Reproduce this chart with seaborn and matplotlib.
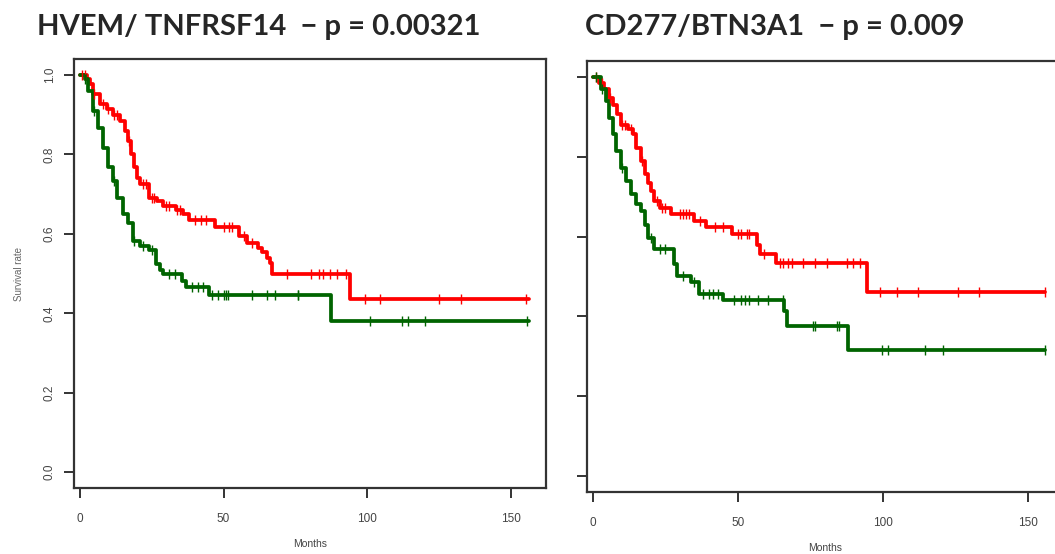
import numpy as np
import pandas as pd
import seaborn as sns
import matplotlib.pyplot as plt

# Kaplan-Meier step curves (months, survival after step)
hvem_hi_t = [0, 2.4, 3.5, 4.5, 7, 9.4, 11.5, 14, 15.6, 16.7, 18, 19, 20, 21, 24, 27, 29,
             33.6, 36, 38, 47, 55.5, 58.3, 62, 63.5, 65, 66, 66.7, 94, 156]
hvem_hi_s = [1.0, 0.99, 0.977, 0.952, 0.927, 0.915, 0.90, 0.884, 0.86, 0.834, 0.80, 0.767,
             0.74, 0.725, 0.69, 0.683, 0.67, 0.66, 0.65, 0.636, 0.616, 0.595, 0.578, 0.565,
             0.553, 0.54, 0.526, 0.50, 0.435, 0.435]
hvem_lo_t = [0, 1.7, 3, 4.5, 6.3, 8, 9.7, 11.5, 13, 15, 16.7, 18.4, 21, 24, 26.7, 28, 29,
             35.5, 37, 45, 87.5, 156]
hvem_lo_s = [1.0, 0.99, 0.96, 0.91, 0.867, 0.817, 0.767, 0.734, 0.69, 0.65, 0.628, 0.583,
             0.57, 0.558, 0.525, 0.508, 0.50, 0.482, 0.465, 0.445, 0.38, 0.38]
cd277_hi_t = [0, 2, 3.8, 5.5, 7, 8.5, 9.6, 12, 13.7, 14.8, 16.5, 18, 19, 20, 21, 23, 27, 35,
              39, 48, 56.7, 57.7, 63, 94.5, 156]
cd277_hi_s = [1.0, 0.985, 0.97, 0.947, 0.93, 0.907, 0.88, 0.87, 0.857, 0.822, 0.79, 0.757,
              0.735, 0.714, 0.69, 0.672, 0.657, 0.638, 0.624, 0.606, 0.58, 0.556, 0.534,
              0.462, 0.462]
cd277_lo_t = [0, 2.7, 4.5, 5.5, 7, 8, 9.6, 11.3, 13, 14.8, 16.5, 18, 19, 21, 28, 29, 33.7,
              36.5, 45, 66, 67, 88, 156]
cd277_lo_s = [1.0, 0.97, 0.94, 0.897, 0.857, 0.815, 0.772, 0.74, 0.707, 0.682, 0.664, 0.63,
              0.597, 0.57, 0.53, 0.50, 0.485, 0.456, 0.44, 0.413, 0.375, 0.315, 0.315]

# censoring times
hvem_hi_cens = [1, 2, 5, 8, 10, 12, 13, 17, 22, 23, 25, 26, 30, 31, 34, 35, 40, 42, 44, 50,
                52, 53, 57, 60, 72, 80.5, 83, 84.5, 87, 89.5, 92.5, 99, 104.5, 125, 132.5, 155]
hvem_lo_cens = [2, 5, 12, 19, 22, 25, 31, 33, 39, 41, 43, 46, 48, 50, 51, 51.5, 60, 65, 68,
                75.7, 76, 101, 112, 114, 120, 155.5]
cd277_hi_cens = [1, 3, 6, 10, 11, 13, 17, 22, 24, 25, 30, 31, 32, 33, 37, 42, 45, 50, 51, 53,
                 54, 59, 64.6, 65.6, 67.4, 68.7, 72.5, 76.6, 80.7, 87.6, 89.7, 92, 99, 105,
                 112, 126, 133, 156]
cd277_lo_cens = [1, 3, 10, 20, 23, 25, 31, 35, 38, 40, 41.6, 43, 48.5, 51, 52.5, 54, 57,
                 60.5, 65.6, 76, 76.6, 84, 85, 99.6, 101.7, 114.4, 120.6, 156]

titles = ["HVEM/ TNFRSF14  \u2212 p = 0.00321", "CD277/BTN3A1  \u2212 p = 0.009"]
red, green = "#ff0000", "#006400"

sns.set_theme(style="white")
plt.rcParams['font.family'] = ['Liberation Sans', 'DejaVu Sans']


def censor_y(t, s, c):
    idx = np.searchsorted(np.array(t), np.array(c), side='right') - 1
    return np.array(s)[idx]


def km_panel(ax, curves):
    for t, s, cens, col in curves:
        df = pd.DataFrame({"Months": t, "Surv": s})
        sns.lineplot(data=df, x="Months", y="Surv", drawstyle='steps-post',
                     estimator=None, sort=False, color=col, linewidth=2.7, ax=ax)
        cdf = pd.DataFrame({"Months": cens, "Surv": censor_y(t, s, cens)})
        sns.scatterplot(data=cdf, x="Months", y="Surv", marker='|', s=55,
                        color=col, linewidth=1.0, ax=ax, zorder=3)
    ax.set_xlim(-2, 162)
    ax.set_ylim(-0.04, 1.04)
    ax.set_xticks([0, 50, 100, 150])
    ax.set_yticks([0, 0.2, 0.4, 0.6, 0.8, 1.0])
    for sp in ax.spines.values():
        sp.set_color('#333333')
        sp.set_linewidth(1.6)
    ax.tick_params(axis='both', direction='out', length=7, width=1.4, color='#333333',
                   labelsize=8.5, labelcolor='#444444', bottom=True, left=True)
    ax.tick_params(axis='x', pad=11)
    ax.set_xlabel("Months", fontsize=7.5, color='#444444', labelpad=10)


fig = plt.figure(figsize=(10.55, 5.54), dpi=100)
ax1 = fig.add_axes([0.070, 0.119, 0.4475, 0.7745])
ax2 = fig.add_axes([0.5564, 0.112, 0.451, 0.778])

km_panel(ax1, [(hvem_hi_t, hvem_hi_s, hvem_hi_cens, red),
               (hvem_lo_t, hvem_lo_s, hvem_lo_cens, green)])
km_panel(ax2, [(cd277_hi_t, cd277_hi_s, cd277_hi_cens, red),
               (cd277_lo_t, cd277_lo_s, cd277_lo_cens, green)])

ax1.set_yticks([0, 0.2, 0.4, 0.6, 0.8, 1.0], ["0.0", "0.2", "0.4", "0.6", "0.8", "1.0"],
               rotation=90, va='center')
ax1.tick_params(axis='y', pad=6)
ax1.set_ylabel("Survival rate", fontsize=7, color='#666666', labelpad=14)
ax2.set_yticklabels([])
ax2.set_ylabel("")

fig.text(0.035, 0.937, titles[0], fontsize=21, fontweight='bold', family='Lato',
         va='baseline', ha='left')
fig.text(0.5545, 0.937, titles[1], fontsize=21, fontweight='bold', family='Lato',
         va='baseline', ha='left')

plt.savefig("out.png", dpi=100)
